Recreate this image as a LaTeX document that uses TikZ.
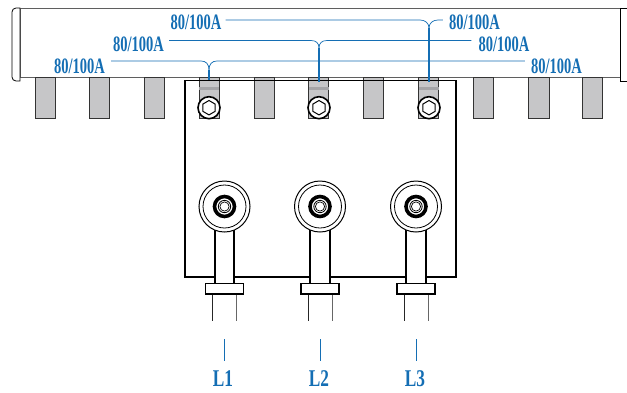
\documentclass[tikz,border=0pt]{standalone}
\usepackage{fontspec}
\setmainfont{Liberation Serif}
\usepackage{xcolor}
\usetikzlibrary{positioning,calc}
\definecolor{busblue}{RGB}{20,110,180}
\definecolor{toothgray}{RGB}{198,198,200}
\definecolor{bandgray}{RGB}{165,165,168}
\definecolor{barline}{RGB}{95,95,95}
\tikzset{
    ratelabel/.style={text=busblue, font=\bfseries\fontsize{22}{22}\selectfont, xscale=0.66, inner sep=0pt},
    phaselabel/.style={text=busblue, font=\bfseries\fontsize{24}{24}\selectfont, xscale=0.72, inner sep=0pt},
    busline/.style={busblue, line width=0.7pt},
    stemline/.style={busblue, line width=1.4pt},
    tooth/.style={draw=black!80, fill=toothgray, line width=0.8pt},
    part/.style={draw=black, line width=1pt, fill=white}
}
\begin{document}
\begin{tikzpicture}[x=1pt, y=-1pt]
    \useasboundingbox (0,0) rectangle (627,392);

    % Bus bar with end caps
    \draw[barline, line width=0.8pt, fill=white] (20,8) rectangle (620,77.5);
    \draw[black, line width=0.8pt, fill=white] (20,8) -- (16,8) to[out=180,in=90] (12,12) -- (12,77) to[out=-90,in=180] (16,81) -- (20,81) -- cycle;
    \draw[black, line width=0.8pt, fill=white] (620,8) -- (627,8) -- (627,81) -- (620,81) -- cycle;

    % Teeth
    \foreach \tx in {35,89,144,199,254,308,363,418,473,528.5,582}
        \draw[tooth] (\tx,77.5) rectangle (\tx+20.5,118.5);

    % Plate
    \draw[black, line width=1.4pt] (185,80.5) -- (456,80.5) -- (456,277) -- (185,277) -- cycle;

    % Bolts on the teeth
    \foreach \bx/\bname in {209/a,319/b,429/c} {
        \fill[bandgray] (\bx-10,86.5) rectangle (\bx+10,89.5);
        \node[circle, draw=black, line width=1.6pt, fill=white, minimum size=22pt, inner sep=0pt] (bolt\bname) at (\bx,107.7) {};
        \draw[black, line width=1pt] (\bx,100.5) -- (\bx+6.2,104.1) -- (\bx+6.2,111.3) -- (\bx,114.9) -- (\bx-6.2,111.3) -- (\bx-6.2,104.1) -- cycle;
    }

    % Terminals, L1 to L3
    \foreach \lx/\lname in {224.5/1,320/2,416/3} {
        \draw[black!85, line width=0.9pt] (\lx-12,294) -- (\lx-12,321);
        \draw[black!60, line width=0.9pt] (\lx+12,294) -- (\lx+12,321);
        \draw[part, line width=1.9pt] (\lx-9.6,230) rectangle (\lx+9.6,284);
        \draw[part, line width=1.5pt] (\lx-19,283.5) rectangle (\lx+19,294);
        \node[circle, part, minimum size=51pt, inner sep=0pt] (eye\lname) at (\lx,206.5) {};
        \draw[black, line width=0.8pt] (eye\lname) circle (21.5);
        \draw[black, line width=3.6pt] (eye\lname) circle (10);
        \draw[black, line width=0.8pt] (eye\lname) circle (6.2);
        \draw[black, line width=0.7pt] (eye\lname) circle (4.6);
    }
    \foreach \lx/\lname in {224/1,320/2,416/3} {
        \node[phaselabel] (L\lname) at (\lx-1,378.5) {L\lname};
        \coordinate (tick\lname) at (\lx,339);
        \draw[busline] (tick\lname) -- (\lx,361);
    }

    % Rating labels
    \node[ratelabel] (ratetopl) at (196,22) {80/100A};
    \node[ratelabel] (ratemidl) at (138.5,44) {80/100A};
    \node[ratelabel] (ratelowl) at (79.5,66) {80/100A};
    \node[ratelabel] (ratetopr) at (474.5,22) {80/100A};
    \node[ratelabel] (ratemidr) at (504,44) {80/100A};
    \node[ratelabel] (ratelowr) at (556.5,66) {80/100A};

    % Stem ends on the teeth
    \coordinate (stema) at (209,80);
    \coordinate (stemb) at (319,82);
    \coordinate (stemc) at (429,82);

    % Leaders
    \draw[busline] (ratelowl.east) ++(6,-5) -- (201,61) .. controls (206,61) and (209,64) .. (209,70);
    \draw[busline] (ratelowr.west) ++(-6,-5) -- (217,61) .. controls (212,61) and (209,64) .. (209,70);
    \draw[stemline] (209,70) -- (stema);
    \draw[busline] (ratemidl.east) ++(5,-3.5) -- (311,40.5) .. controls (316,40.5) and (319,43) .. (319,48);
    \draw[busline] (ratemidr.west) ++(-7,-3.5) -- (327,40.5) .. controls (322,40.5) and (319,43) .. (319,48);
    \draw[stemline] (319,48) -- (stemb);
    \draw[busline] (ratetopl.east) ++(4,-2) -- (420,20) .. controls (425,20) and (429,23) .. (429,28);
    \draw[busline] (ratetopr.west) ++(-6,-2) -- (438,20) .. controls (433,20) and (429,23) .. (429,28);
    \draw[stemline] (429,28) -- (stemc);
\end{tikzpicture}
\end{document}
